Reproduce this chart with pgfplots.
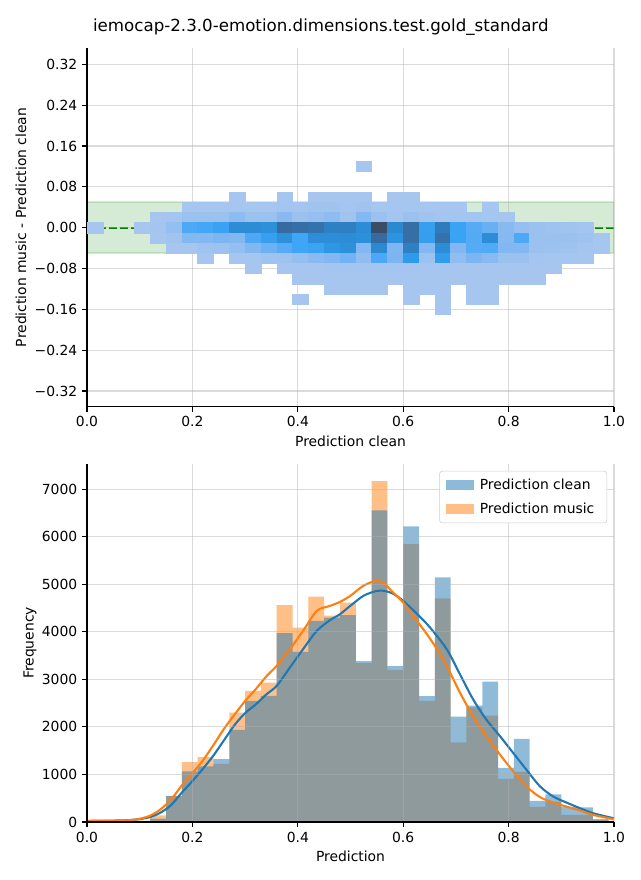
\documentclass[border=0pt]{standalone}
\usepackage{fontspec}
\setmainfont{DejaVu Sans}
\usepackage{pgfplots}
\pgfplotsset{compat=1.18}
\definecolor{c0}{RGB}{31,119,180}
\definecolor{c1}{RGB}{255,127,14}
\definecolor{mgreen}{RGB}{0,128,0}
\definecolor{gridc}{RGB}{176,176,176}
\definecolor{legc}{RGB}{204,204,204}
\pgfdeclareplotmark{cell}{%
  \pgfpathrectangle{\pgfpoint{-5.6916pt}{-3.675pt}}{\pgfpoint{11.3832pt}{7.35pt}}%
  \pgfusepathqfillstroke}
\pgfplotsset{
  mpl/.style={
    scale only axis, width=379.44pt,
    axis lines*=left, axis line style={line width=0.8pt, black},
    tick align=outside, major tick length=3.5pt, tick style={line width=0.8pt, black},
    grid=major, grid style={line width=0.8pt, draw=gridc, draw opacity=0.45},
    tick label style={font=\fontsize{10}{12}\selectfont},
    label style={font=\fontsize{10}{12}\selectfont},
    xmin=0, xmax=1, xtick={0,0.2,0.4,0.6,0.8,1},
    xticklabels={0.0,0.2,0.4,0.6,0.8,1.0},
    axis on top, scaled ticks=false,
    every axis x label/.style={at={(axis description cs:0.5,-0.097)}, anchor=center},
  }
}
\begin{document}
\begin{tikzpicture}
\path[use as bounding box] (0,0) rectangle (460.8pt,633.6pt);
\node[font=\fontsize{12}{14}\selectfont] at (231pt,613.9pt) {iemocap-2.3.0-emotion.dimensions.test.gold\_standard};
% ---------------- top: 2D histogram ----------------
\begin{axis}[mpl,
  at={(62.64pt,340.8pt)}, anchor=south west, height=258pt,
  ymin=-0.3507, ymax=0.3513,
  ytick={-0.32,-0.24,-0.16,-0.08,0,0.08,0.16,0.24,0.32},
  yticklabels={−0.32,−0.24,−0.16,−0.08,0.00,0.08,0.16,0.24,0.32},
  xlabel={Prediction clean},
  ylabel={Prediction music - Prediction clean},
  every axis y label/.style={at={(axis description cs:-0.1252,0.5)}, rotate=90, anchor=center},
  colormap={sb}{rgb255(0pt)=(172,201,239) rgb255(15pt)=(155,193,239) rgb255(28pt)=(130,183,242) rgb255(40pt)=(93,173,244) rgb255(50pt)=(62,165,247) rgb255(60pt)=(46,154,234) rgb255(70pt)=(43,137,208) rgb255(82pt)=(54,110,166) rgb255(100pt)=(59,76,102)},
  point meta min=0, point meta max=1,
]
\addplot[draw=mgreen, draw opacity=0.16, line width=1pt, fill=mgreen, fill opacity=0.16]
  coordinates {(0,-0.05) (1,-0.05) (1,0.05) (0,0.05)} -- cycle;
\addplot[scatter, only marks, mark=cell, point meta=explicit,
  scatter/use mapped color={draw=mapped color, fill=mapped color},
  mark options={line width=0.3pt}] coordinates {
(0.525,0.12)[0.05]
(0.285,0.06)[0.05] (0.375,0.06)[0.05] (0.435,0.06)[0.05] (0.465,0.06)[0.05] (0.495,0.06)[0.05] (0.525,0.06)[0.05] (0.585,0.06)[0.05] (0.615,0.06)[0.05]
(0.195,0.04)[0.05] (0.225,0.04)[0.05] (0.255,0.04)[0.05] (0.285,0.04)[0.05] (0.315,0.04)[0.05] (0.345,0.04)[0.06] (0.375,0.04)[0.08] (0.405,0.04)[0.08] (0.435,0.04)[0.1] (0.465,0.04)[0.1] (0.495,0.04)[0.08] (0.525,0.04)[0.1] (0.555,0.04)[0.06] (0.585,0.04)[0.06] (0.615,0.04)[0.06] (0.645,0.04)[0.05] (0.675,0.04)[0.05] (0.705,0.04)[0.05] (0.765,0.04)[0.05]
(0.135,0.02)[0.05] (0.165,0.02)[0.08] (0.195,0.02)[0.15] (0.225,0.02)[0.15] (0.255,0.02)[0.15] (0.285,0.02)[0.22] (0.315,0.02)[0.15] (0.345,0.02)[0.15] (0.375,0.02)[0.25] (0.405,0.02)[0.15] (0.435,0.02)[0.18] (0.465,0.02)[0.22] (0.495,0.02)[0.1] (0.525,0.02)[0.27] (0.555,0.02)[0.15] (0.585,0.02)[0.08] (0.615,0.02)[0.15] (0.645,0.02)[0.1] (0.675,0.02)[0.08] (0.705,0.02)[0.08] (0.735,0.02)[0.08] (0.765,0.02)[0.06] (0.795,0.02)[0.05]
(0.015,0)[0.05] (0.105,0)[0.05] (0.135,0)[0.08] (0.165,0)[0.18] (0.195,0)[0.45] (0.225,0)[0.48] (0.255,0)[0.53] (0.285,0)[0.68] (0.315,0)[0.68] (0.345,0)[0.66] (0.375,0)[0.84] (0.405,0)[0.82] (0.435,0)[0.8] (0.465,0)[0.74] (0.495,0)[0.74] (0.525,0)[0.68] (0.555,0)[1.0] (0.585,0)[0.7] (0.615,0)[0.82] (0.645,0)[0.55] (0.675,0)[0.76] (0.705,0)[0.52] (0.735,0)[0.42] (0.765,0)[0.36] (0.795,0)[0.25] (0.825,0)[0.18] (0.855,0)[0.15] (0.885,0)[0.12] (0.915,0)[0.1] (0.945,0)[0.08]
(0.135,-0.02)[0.05] (0.165,-0.02)[0.1] (0.195,-0.02)[0.27] (0.225,-0.02)[0.27] (0.255,-0.02)[0.3] (0.285,-0.02)[0.28] (0.315,-0.02)[0.45] (0.345,-0.02)[0.55] (0.375,-0.02)[0.66] (0.405,-0.02)[0.5] (0.435,-0.02)[0.67] (0.465,-0.02)[0.67] (0.495,-0.02)[0.68] (0.525,-0.02)[0.66] (0.555,-0.02)[0.84] (0.585,-0.02)[0.64] (0.615,-0.02)[0.82] (0.645,-0.02)[0.56] (0.675,-0.02)[0.8] (0.705,-0.02)[0.52] (0.735,-0.02)[0.43] (0.765,-0.02)[0.68] (0.795,-0.02)[0.26] (0.825,-0.02)[0.45] (0.855,-0.02)[0.15] (0.885,-0.02)[0.15] (0.915,-0.02)[0.15] (0.945,-0.02)[0.12] (0.975,-0.02)[0.06]
(0.165,-0.04)[0.05] (0.195,-0.04)[0.06] (0.225,-0.04)[0.12] (0.255,-0.04)[0.14] (0.285,-0.04)[0.18] (0.315,-0.04)[0.28] (0.345,-0.04)[0.35] (0.375,-0.04)[0.42] (0.405,-0.04)[0.5] (0.435,-0.04)[0.52] (0.465,-0.04)[0.62] (0.495,-0.04)[0.66] (0.525,-0.04)[0.27] (0.555,-0.04)[0.7] (0.585,-0.04)[0.29] (0.615,-0.04)[0.74] (0.645,-0.04)[0.27] (0.675,-0.04)[0.68] (0.705,-0.04)[0.28] (0.735,-0.04)[0.42] (0.765,-0.04)[0.44] (0.795,-0.04)[0.28] (0.825,-0.04)[0.27] (0.855,-0.04)[0.15] (0.885,-0.04)[0.14] (0.915,-0.04)[0.12] (0.945,-0.04)[0.08] (0.975,-0.04)[0.06]
(0.225,-0.06)[0.05] (0.285,-0.06)[0.05] (0.315,-0.06)[0.06] (0.345,-0.06)[0.12] (0.375,-0.06)[0.12] (0.405,-0.06)[0.18] (0.435,-0.06)[0.24] (0.465,-0.06)[0.28] (0.495,-0.06)[0.33] (0.525,-0.06)[0.2] (0.555,-0.06)[0.46] (0.585,-0.06)[0.3] (0.615,-0.06)[0.6] (0.645,-0.06)[0.14] (0.675,-0.06)[0.58] (0.705,-0.06)[0.2] (0.735,-0.06)[0.3] (0.765,-0.06)[0.25] (0.795,-0.06)[0.15] (0.825,-0.06)[0.15] (0.855,-0.06)[0.08] (0.885,-0.06)[0.06] (0.915,-0.06)[0.06] (0.945,-0.06)[0.05]
(0.315,-0.08)[0.05] (0.375,-0.08)[0.05] (0.405,-0.08)[0.05] (0.435,-0.08)[0.05] (0.465,-0.08)[0.08] (0.495,-0.08)[0.08] (0.525,-0.08)[0.08] (0.555,-0.08)[0.08] (0.585,-0.08)[0.08] (0.615,-0.08)[0.08] (0.645,-0.08)[0.05] (0.675,-0.08)[0.05] (0.705,-0.08)[0.05] (0.735,-0.08)[0.05] (0.765,-0.08)[0.05] (0.795,-0.08)[0.05] (0.825,-0.08)[0.05] (0.855,-0.08)[0.05] (0.885,-0.08)[0.05]
(0.405,-0.1)[0.05] (0.435,-0.1)[0.05] (0.465,-0.1)[0.05] (0.495,-0.1)[0.05] (0.525,-0.1)[0.05] (0.555,-0.1)[0.05] (0.585,-0.1)[0.05] (0.615,-0.1)[0.05] (0.645,-0.1)[0.05] (0.675,-0.1)[0.05] (0.705,-0.1)[0.05] (0.735,-0.1)[0.05] (0.765,-0.1)[0.05] (0.795,-0.1)[0.05] (0.825,-0.1)[0.05] (0.855,-0.1)[0.05]
(0.465,-0.12)[0.05] (0.495,-0.12)[0.05] (0.525,-0.12)[0.05] (0.555,-0.12)[0.05] (0.615,-0.12)[0.05] (0.645,-0.12)[0.05] (0.675,-0.12)[0.05] (0.735,-0.12)[0.05] (0.765,-0.12)[0.05]
(0.405,-0.14)[0.05] (0.615,-0.14)[0.05] (0.675,-0.14)[0.05] (0.735,-0.14)[0.05] (0.765,-0.14)[0.05]
(0.675,-0.16)[0.05]
};
\addplot[mgreen, line width=1.5pt, dash pattern=on 5.55pt off 2.4pt] coordinates {(0,0) (1,0)};
\end{axis}
% ---------------- bottom: histograms ----------------
\begin{axis}[mpl,
  at={(62.64pt,41.76pt)}, anchor=south west, height=257.76pt,
  ymin=0, ymax=7530,
  ytick={0,1000,2000,3000,4000,5000,6000,7000},
  yticklabels={0,1000,2000,3000,4000,5000,6000,7000},
  xlabel={Prediction}, ylabel={Frequency},
  every axis y label/.style={at={(axis description cs:-0.108,0.5)}, rotate=90, anchor=center},
  legend style={at={(1,1)}, anchor=north east, xshift=-5pt, yshift=-5pt, draw=legc, rounded corners=2pt,
    fill=white, font=\fontsize{10}{12}\selectfont, inner xsep=5pt, inner ysep=3.5pt, row sep=4pt,
    nodes={inner xsep=4pt}},
  legend cell align=left,
]
\addplot[const plot, fill=c1, fill opacity=0.5, draw=none, forget plot] coordinates {
(0,10) (0.03,5) (0.06,10) (0.09,30) (0.12,140) (0.15,545) (0.18,1257) (0.21,1362) (0.24,1221) (0.27,2303) (0.30,2760) (0.33,2934) (0.36,4560) (0.39,4090) (0.42,4741) (0.45,4340) (0.48,4615) (0.51,3340) (0.54,7171) (0.57,3200) (0.60,5847) (0.63,2550) (0.66,4703) (0.69,1673) (0.72,2411) (0.75,2236) (0.78,907) (0.81,1055) (0.84,316) (0.87,428) (0.90,148) (0.93,150) (0.96,40) (0.99,10) (1.02,10)
} \closedcycle;
\addplot[const plot, fill=c0, fill opacity=0.5, draw=none, forget plot] coordinates {
(0,15) (0.03,5) (0.06,10) (0.09,20) (0.12,70) (0.15,550) (0.18,1067) (0.21,1172) (0.24,1320) (0.27,1938) (0.30,2550) (0.33,2654) (0.36,3970) (0.39,3578) (0.42,4230) (0.45,4300) (0.48,4349) (0.51,3382) (0.54,6555) (0.57,3277) (0.60,6219) (0.63,2650) (0.66,5146) (0.69,2214) (0.72,2446) (0.75,2953) (0.78,1139) (0.81,1750) (0.84,443) (0.87,583) (0.90,316) (0.93,310) (0.96,60) (0.99,15) (1.02,15)
} \closedcycle;
\addplot[c0, line width=1.5pt, smooth, tension=0.5, forget plot] coordinates {
(0,25) (0.03,27) (0.06,32) (0.08,40) (0.10,60) (0.12,105) (0.14,200) (0.16,360) (0.18,620) (0.20,860) (0.22,1120) (0.24,1400) (0.26,1720) (0.28,2040) (0.30,2290) (0.32,2470) (0.34,2680) (0.36,2864) (0.385,3249) (0.41,3635) (0.436,4020) (0.461,4244) (0.48,4370) (0.50,4550) (0.525,4760) (0.55,4860) (0.565,4860) (0.581,4800) (0.60,4650) (0.626,4380) (0.651,4090) (0.683,3627) (0.708,3100) (0.733,2573) (0.758,2151) (0.784,1800) (0.809,1448) (0.834,1097) (0.86,745) (0.885,534) (0.91,408) (0.936,288) (0.961,183) (1.0,77)
};
\addplot[c1, line width=1.5pt, smooth, tension=0.5, forget plot] coordinates {
(0,18) (0.03,20) (0.06,28) (0.08,38) (0.10,68) (0.12,135) (0.14,270) (0.16,480) (0.18,770) (0.20,1026) (0.22,1295) (0.24,1620) (0.26,1960) (0.28,2260) (0.30,2545) (0.32,2790) (0.34,3060) (0.36,3284) (0.385,3635) (0.41,4020) (0.436,4440) (0.461,4545) (0.48,4629) (0.50,4760) (0.524,4965) (0.547,5070) (0.562,5035) (0.581,4825) (0.60,4615) (0.626,4230) (0.645,3950) (0.665,3620) (0.683,3276) (0.708,2714) (0.733,2221) (0.758,1800) (0.784,1413) (0.809,1062) (0.834,745) (0.86,520) (0.885,408) (0.91,323) (0.936,239) (0.961,148) (1.0,56)
};
\addlegendimage{legend image code/.code={\fill[c0, fill opacity=0.5, draw=none, sharp corners] (0pt,-3.6pt) rectangle (20pt,3.6pt);}}
\addlegendentry{Prediction clean}
\addlegendimage{legend image code/.code={\fill[c1, fill opacity=0.5, draw=none, sharp corners] (0pt,-3.6pt) rectangle (20pt,3.6pt);}}
\addlegendentry{Prediction music}
\end{axis}
\end{tikzpicture}
\end{document}
